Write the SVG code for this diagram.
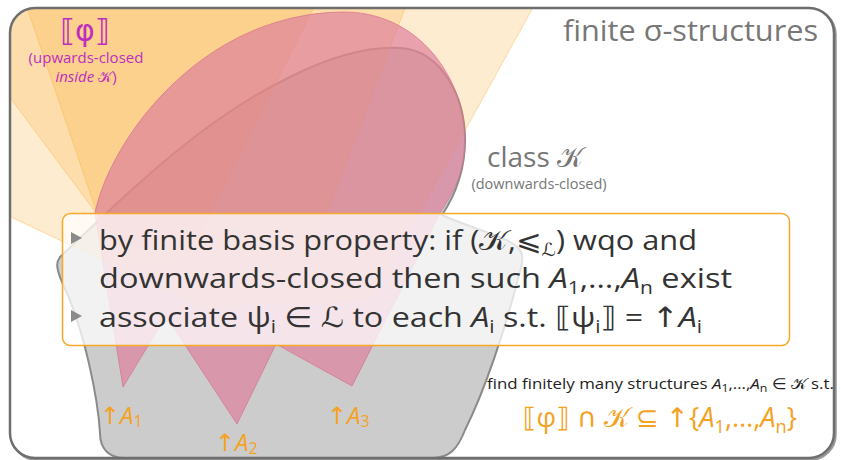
<svg xmlns="http://www.w3.org/2000/svg" width="841" height="460" viewBox="0 0 841 460">
<style>
text{font-family:"Open Sans","DejaVu Sans",sans-serif}
.cone{fill:rgb(250,168,40);fill-opacity:0.22;stroke:rgb(250,168,40);stroke-opacity:0.35;stroke-width:1}
.box{fill:#ffffff;fill-opacity:0.75;stroke:#f7a928;stroke-width:1.5}
.bt{font-size:28px;fill:#333}
.mi{font-style:italic}
.cal{font-family:"DejaVu Sans",sans-serif}
.or{fill:#f4a21f}
.sub{font-size:18px}
.bul{fill:#8a8a8a}
</style>
<defs>
<clipPath id="frameclip"><rect x="10" y="8" width="824" height="450" rx="25"/></clipPath>
</defs>
<rect x="11.5" y="9.5" width="824" height="450" rx="25" fill="none" stroke="#555" stroke-width="2.5" opacity="0.6"/>
<rect id="frame" x="10" y="8" width="824" height="450" rx="25" fill="#ffffff" stroke="none"/>
<g id="classK">
<path d="M125,458 C108,458 100,448 100,433 C98,400 85,330 62,282 C56,268 56,262 60,257 C120,200 200,120 290,77 C320,62 360,46 400,48 C440,50 465,95 465,140 C465,175 452,200 442,215 C470,228 505,236 515,245 C525,252 523,262 519,275 C505,330 485,390 465,430 C458,448 450,458 432,458 Z" fill="#cccccc" stroke="#8a8a8a" stroke-width="2" clip-path="url(#frameclip)"/>
</g>
<g id="phi-cones" clip-path="url(#frameclip)">
<polygon class="cone" points="-100,165 200,306 371,300 565,-50 -100,-50"/>
<polygon class="cone" points="-100,-50 120,245 309,260 431,-60"/>
<polygon class="cone" points="4,-60 113,260 186,260 348,-60"/>
</g>
<g id="upA">
<path d="M95,213 C110,140 200,15 340,12 C420,10 465,80 465,140 C465,170 455,190 440,213 L352,386 L276,344 L237,424 L166,316 L123,387 Z" fill="rgb(222,128,157)" fill-opacity="0.69" stroke="rgb(214,112,140)" stroke-opacity="0.7" stroke-width="1"/>
</g>
<rect x="10" y="8" width="824" height="450" rx="25" fill="none" stroke="#6e6e6e" stroke-width="2.5"/>
<g id="title">
<text x="563" y="41" font-size="29" fill="#777" textLength="255" lengthAdjust="spacingAndGlyphs">finite σ-structures</text>
</g>
<g id="phi-label">
<text x="85" y="41" font-size="30" fill="#bf2fbf" text-anchor="middle" style="font-family:'DejaVu Sans',sans-serif">⟦φ⟧</text>
<text x="86" y="63" font-size="15" fill="#bf2fbf" text-anchor="middle">(upwards-closed</text>
<text x="86" y="82" font-size="15" fill="#bf2fbf" text-anchor="middle"><tspan class="mi">inside </tspan><tspan class="cal">𝒦</tspan>)</text>
</g>
<g id="K-label">
<text x="487" y="167" font-size="28" fill="#777">class <tspan class="cal">𝒦</tspan></text>
<text x="539" y="189" font-size="14.5" fill="#777" text-anchor="middle">(downwards-closed)</text>
</g>
<g id="infobox">
<rect class="box" x="62.5" y="213.5" width="727" height="132" rx="8"/>
<polygon class="bul" points="71,232 82,238 71,244"/>
<polygon class="bul" points="71,310 82,316 71,322"/>
<text class="bt" x="99" y="250" textLength="598" lengthAdjust="spacingAndGlyphs">by finite basis property: if (<tspan class="cal">𝒦</tspan>,⩽<tspan class="sub cal" dy="6">ℒ</tspan><tspan dy="-6">) wqo and</tspan></text>
<text class="bt" x="99" y="288" textLength="633" lengthAdjust="spacingAndGlyphs">downwards-closed then such <tspan class="mi">A</tspan><tspan class="sub" dy="6">1</tspan><tspan dy="-6">,…,</tspan><tspan class="mi">A</tspan><tspan class="sub" dy="6">n</tspan><tspan dy="-6"> exist</tspan></text>
<text class="bt" x="99" y="327" textLength="603" lengthAdjust="spacingAndGlyphs">associate ψ<tspan class="sub" dy="6">i</tspan><tspan dy="-6"> ∈ </tspan><tspan class="cal">ℒ</tspan> to each <tspan class="mi">A</tspan><tspan class="sub" dy="6">i</tspan><tspan dy="-6"> s.t. ⟦ψ</tspan><tspan class="sub" dy="6">i</tspan><tspan dy="-6">⟧ = ↑</tspan><tspan class="mi">A</tspan><tspan class="sub" dy="6">i</tspan></text>
</g>
<g id="A-labels">
<text class="or" x="100" y="424" font-size="24">↑<tspan class="mi">A</tspan><tspan font-size="16" dy="3">1</tspan></text>
<text class="or" x="215" y="451" font-size="24">↑<tspan class="mi">A</tspan><tspan font-size="16" dy="3">2</tspan></text>
<text class="or" x="327" y="424" font-size="24">↑<tspan class="mi">A</tspan><tspan font-size="16" dy="3">3</tspan></text>
</g>
<g id="goal">
<text x="487" y="389" font-size="15" fill="#222" textLength="347" lengthAdjust="spacingAndGlyphs">find finitely many structures <tspan class="mi">A</tspan><tspan font-size="11" dy="3">1</tspan><tspan dy="-3">,…,</tspan><tspan class="mi">A</tspan><tspan font-size="11" dy="3">n</tspan><tspan dy="-3"> ∈ </tspan><tspan class="cal">𝒦</tspan> s.t.</text>
<text class="or" x="523" y="427" font-size="27" textLength="274" lengthAdjust="spacingAndGlyphs">⟦φ⟧ ∩ <tspan class="cal">𝒦</tspan> ⊆ ↑{<tspan class="mi">A</tspan><tspan class="sub" dy="6">1</tspan><tspan dy="-6">,…,</tspan><tspan class="mi">A</tspan><tspan class="sub" dy="6">n</tspan><tspan dy="-6">}</tspan></text>
</g>
</svg>
